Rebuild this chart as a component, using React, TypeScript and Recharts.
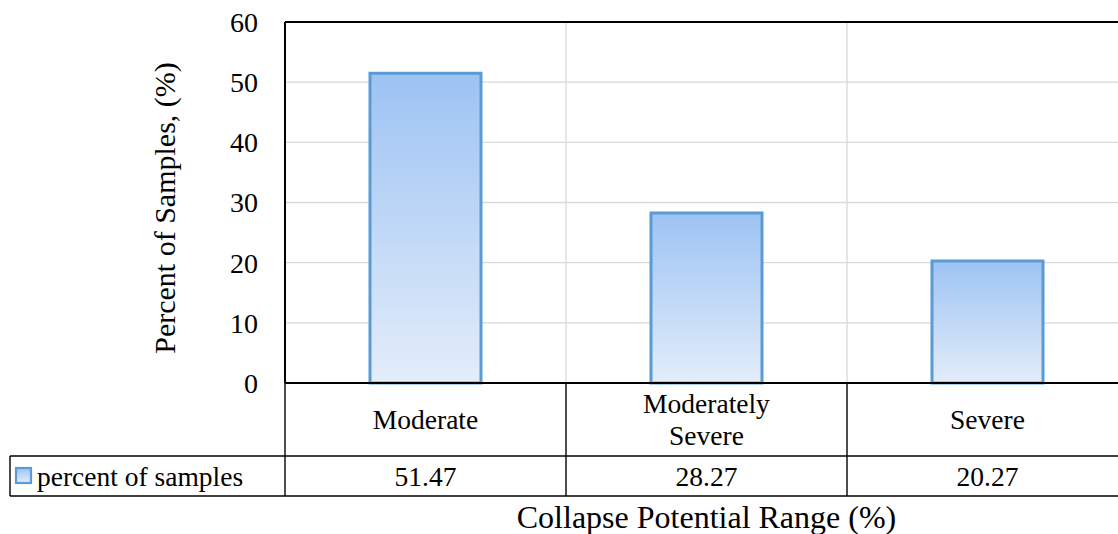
import { Bar, CartesianGrid, ComposedChart, ReferenceLine, XAxis, YAxis } from 'recharts';

const categories = ['Moderate', 'Moderately Severe', 'Severe'];
const percentOfSamples = [51.47, 28.27, 20.27];
const yTicks = [0, 10, 20, 30, 40, 50, 60];
const seriesName = 'percent of samples';

const data = categories.map((category, i) => ({ category, value: percentOfSamples[i] }));

const FONT = '"Liberation Serif", "Times New Roman", serif';
const FS = 27.5;
const W = 1140;
const H = 534;
const margin = { top: 22, right: 12, left: 0, bottom: 0 };
const Y_AXIS_W = 285;
const X_AXIS_H = 151;
const BAR_BLUE = '#5B9BD5';

function TableTick(props: any) {
  const { x, y, payload, index } = props;
  const plotW = W - margin.left - margin.right - Y_AXIS_W;
  const half = payload?.offset || plotW / categories.length / 2;
  const left = x - half;
  const right = x + half;
  const top = y;
  const rowMid = top + 73;
  const rowBot = top + 113;
  const label: string = payload.value;
  const lines = label.length > 12 ? label.split(' ') : [label];
  const value = percentOfSamples[index];
  const headMid = top + 36.5;
  return (
    <g fontFamily={FONT} fontSize={FS} fill="#000">
      <line x1={right} y1={top} x2={right} y2={rowBot} stroke="#000" strokeWidth={1.4} />
      <line x1={left} y1={rowMid} x2={right} y2={rowMid} stroke="#000" strokeWidth={1.4} />
      <line x1={left} y1={rowBot} x2={right} y2={rowBot} stroke="#000" strokeWidth={1.4} />
      {lines.map((ln, i) => (
        <text
          key={ln}
          x={x}
          y={headMid + (i - (lines.length - 1) / 2) * 32}
          textAnchor="middle"
          dominantBaseline="central"
          fontSize={FS}
        >
          {ln}
        </text>
      ))}
      <text x={x} y={top + 93} textAnchor="middle" dominantBaseline="central" fontSize={FS}>
        {value.toFixed(2)}
      </text>
      {index === 0 && (
        <g>
          <line x1={left} y1={top} x2={left} y2={rowBot} stroke="#000" strokeWidth={1.4} />
          <line x1={10} y1={rowMid} x2={left} y2={rowMid} stroke="#000" strokeWidth={1.4} />
          <line x1={10} y1={rowBot} x2={left} y2={rowBot} stroke="#000" strokeWidth={1.4} />
          <line x1={10} y1={rowMid} x2={10} y2={rowBot} stroke="#000" strokeWidth={1.4} />
          <rect x={16} y={top + 85} width={15} height={15} fill="url(#barFill)" stroke={BAR_BLUE} strokeWidth={2.2} />
          <text x={37} y={top + 93} dominantBaseline="central" fontSize={FS}>
            {seriesName}
          </text>
        </g>
      )}
    </g>
  );
}

export default function App() {
  return (
    <div style={{ position: 'absolute', left: 0, top: 0, width: 1118, height: 534, overflow: 'hidden', background: '#fff' }}>
      <ComposedChart width={W} height={H} data={data} margin={margin} barCategoryGap="30%">
        <defs>
          <linearGradient id="barFill" x1="0" y1="0" x2="0" y2="1">
            <stop offset="0%" stopColor="#9DC3F3" />
            <stop offset="100%" stopColor="#E3EDFA" />
          </linearGradient>
        </defs>
        <CartesianGrid
          stroke="#D9D9D9"
          strokeWidth={1.3}
          verticalCoordinatesGenerator={({ offset }: any) =>
            categories.slice(1).map((_, i) => offset.left + ((i + 1) * offset.width) / categories.length)
          }
        />
        <XAxis
          dataKey="category"
          height={X_AXIS_H}
          axisLine={{ stroke: '#000', strokeWidth: 2 }}
          tickLine={false}
          tickSize={0}
          tickMargin={0}
          interval={0}
          tick={<TableTick />}
          label={({ viewBox }: any) => (
            <text
              x={viewBox.x + viewBox.width / 2}
              y={517}
              textAnchor="middle"
              dominantBaseline="central"
              fontFamily={FONT}
              fontSize={32}
              fill="#000"
            >
              Collapse Potential Range (%)
            </text>
          )}
        />
        <YAxis
          width={Y_AXIS_W}
          domain={[0, 60]}
          ticks={yTicks}
          interval={0}
          axisLine={{ stroke: '#000', strokeWidth: 2 }}
          tickLine={false}
          tickSize={0}
          tickMargin={27}
          tick={{ fontFamily: FONT, fontSize: 28, fill: '#000' }}
          label={({ viewBox }: any) => (
            <text
              x={viewBox.x + 164}
              y={208}
              transform={`rotate(-90, ${viewBox.x + 164}, 208)`}
              textAnchor="middle"
              dominantBaseline="central"
              fontFamily={FONT}
              fontSize={30}
              fill="#000"
            >
              Percent of Samples, (%)
            </text>
          )}
        />
        <ReferenceLine y={60} stroke="#000" strokeWidth={2} />
        <Bar dataKey="value" name={seriesName} fill="url(#barFill)" stroke={BAR_BLUE} strokeWidth={3} barSize={111} isAnimationActive={false} />
      </ComposedChart>
    </div>
  );
}
